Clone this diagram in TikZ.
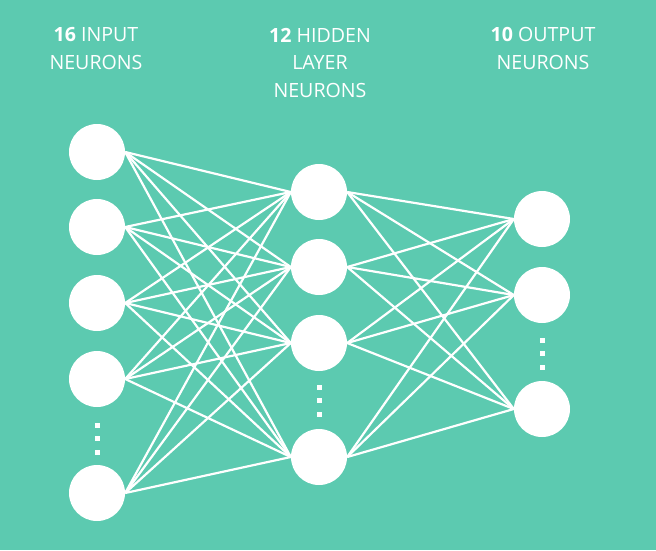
\documentclass[tikz,border=0pt]{standalone}
\usepackage{fontspec}
\setmainfont{Open Sans}
\usetikzlibrary{positioning}
\definecolor{bgteal}{RGB}{92,202,176}

\begin{document}
\begin{tikzpicture}[x=1pt, y=-1pt,
    neuron/.style={circle, fill=white, minimum size=56pt, inner sep=0pt},
    dot/.style={rectangle, fill=white, minimum size=5pt, inner sep=0pt},
    link/.style={draw=white, line width=2.2pt},
    heading/.style={text=white, align=center, anchor=base,
                    font=\fontsize{19.6}{27.5}\selectfont},
  ]
  % Background
  \fill[bgteal] (0,0) rectangle (656,550);
  \useasboundingbox (0,0) rectangle (656,550);

  % Headings (anchored at the last line)
  \node[heading] (tin)  at (96,69)  {\textbf{16} INPUT\\NEURONS};
  \node[heading] (thid) at (320,97) {\textbf{12} HIDDEN\\LAYER\\NEURONS};
  \node[heading] (tout) at (543,69) {\textbf{10} OUTPUT\\NEURONS};

  % Input layer
  \foreach \y [count=\i] in {152,227,303,379,493}
    \node[neuron] (in\i) at (97,\y) {};
  % Hidden layer
  \foreach \y [count=\i] in {192,267,343,457}
    \node[neuron] (hid\i) at (319,\y) {};
  % Output layer
  \foreach \y [count=\i] in {219,295,409}
    \node[neuron] (out\i) at (542,\y) {};

  % Dots
  \foreach \d in {0,1,2} {
    \node[dot] (indot\d)  at (97,425+13.5*\d)  {};
    \node[dot] (hiddot\d) at (319,387+13.5*\d) {};
    \node[dot] (outdot\d) at (542,340+13.5*\d) {};
  }

  % Connections
  \foreach \i in {1,...,5}
    \foreach \j in {1,...,4}
      \draw[link] (in\i.east) -- (hid\j.west);
  \foreach \i in {1,...,4}
    \foreach \j in {1,...,3}
      \draw[link] (hid\i.east) -- (out\j.west);
\end{tikzpicture}
\end{document}
